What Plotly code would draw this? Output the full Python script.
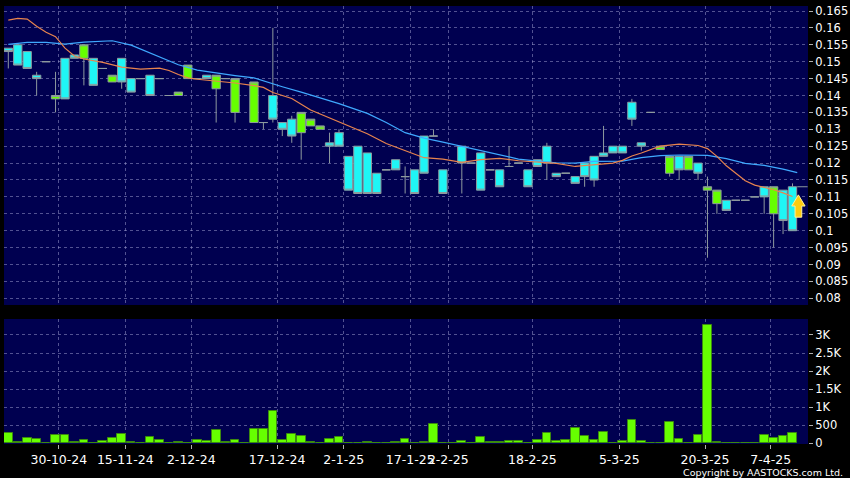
import plotly.graph_objects as go

# ---------------- data ----------------
idx = list(range(84))

open_ = [0.154, 0.155, 0.153, 0.146, 0.150, 0.139, 0.151, 0.152, 0.151, 0.151,
         0.148, 0.144, 0.151, 0.145, 0.145, 0.146, 0.145, 0.140, 0.140, 0.145,
         0.145, 0.146, 0.142, 0.145, 0.135, None, 0.132, 0.132, 0.140, 0.132,
         0.133, 0.129, 0.131, 0.130, 0.126, 0.129, 0.122, 0.125, 0.123, 0.117,
         0.118, 0.121, 0.116, 0.118, 0.128, 0.128, 0.118, None, 0.125, 0.120,
         0.123, 0.118, 0.118, 0.119, 0.120, 0.118, 0.121, 0.125, 0.117, 0.117,
         0.116, 0.120, 0.122, 0.123, 0.125, 0.125, 0.138, 0.126, 0.135, 0.124,
         0.117, 0.122, 0.118, 0.120, 0.112, 0.108, 0.109, 0.109, 0.109, 0.110,
         0.113, 0.105, 0.112, 0.113]
high_ = [0.154, 0.155, 0.153, 0.147, 0.150, 0.147, 0.151, 0.152, 0.155, 0.151,
         0.148, 0.146, 0.151, 0.145, 0.145, 0.146, 0.145, 0.140, 0.141, 0.149,
         0.145, 0.146, 0.146, 0.145, 0.145, None, 0.144, 0.132, 0.160, 0.132,
         0.134, 0.135, 0.133, 0.131, 0.129, 0.130, 0.122, 0.125, 0.123, 0.117,
         0.118, 0.121, 0.119, 0.118, 0.128, 0.130, 0.118, None, 0.125, 0.120,
         0.123, 0.118, 0.118, 0.125, 0.120, 0.118, 0.121, 0.126, 0.117, 0.117,
         0.116, 0.120, 0.122, 0.131, 0.125, 0.125, 0.139, 0.126, 0.135, 0.125,
         0.122, 0.122, 0.122, 0.120, 0.116, 0.112, 0.109, 0.109, 0.109, 0.110,
         0.113, 0.113, 0.112, 0.114]
low_ = [0.148, 0.149, 0.148, 0.140, 0.150, 0.135, 0.139, 0.151, 0.143, 0.143,
        0.148, 0.144, 0.142, 0.141, 0.145, 0.140, 0.145, 0.140, 0.140, 0.145,
        0.145, 0.145, 0.132, 0.145, 0.132, None, 0.132, 0.130, 0.132, 0.128,
        0.126, 0.121, 0.131, 0.130, 0.120, 0.125, 0.112, 0.111, 0.111, 0.111,
        0.118, 0.118, 0.111, 0.111, 0.117, 0.128, 0.111, None, 0.111, 0.120,
        0.112, 0.118, 0.113, 0.119, 0.120, 0.113, 0.119, 0.115, 0.116, 0.117,
        0.114, 0.113, 0.113, 0.122, 0.123, 0.123, 0.131, 0.1237, 0.135, 0.124,
        0.116, 0.115, 0.118, 0.115, 0.092, 0.105, 0.106, 0.109, 0.109, 0.110,
        0.105, 0.095, 0.099, 0.100]
close_ = [0.153, 0.149, 0.148, 0.145, 0.150, 0.140, 0.139, 0.151, 0.155, 0.143,
          0.148, 0.146, 0.144, 0.141, 0.145, 0.140, 0.145, 0.140, 0.141, 0.149,
          0.145, 0.145, 0.146, 0.145, 0.145, None, 0.144, 0.132, 0.133, 0.130,
          0.128, 0.135, 0.133, 0.131, 0.125, 0.125, 0.112, 0.111, 0.111, 0.111,
          0.118, 0.118, 0.116, 0.111, 0.117, 0.128, 0.111, None, 0.120, 0.120,
          0.112, 0.118, 0.113, 0.119, 0.120, 0.113, 0.119, 0.120, 0.116, 0.117,
          0.114, 0.116, 0.115, 0.122, 0.123, 0.123, 0.133, 0.125, 0.135, 0.125,
          0.122, 0.118, 0.122, 0.117, 0.113, 0.112, 0.106, 0.109, 0.109, 0.110,
          0.110, 0.113, 0.103, 0.100]

volume = [296, 46, 138, 120, 18, 230, 221, 46, 92, 0,
          74, 148, 258, 37, 0, 175, 92, 10, 28, 0,
          92, 74, 369, 37, 83, 0, 397, 397, 905, 101,
          258, 203, 28, 0, 129, 175, 0, 10, 37, 0,
          0, 37, 129, 10, 37, 535, 0, 0, 55, 0,
          185, 37, 46, 55, 55, 10, 92, 277, 65, 101,
          425, 194, 92, 323, 0, 55, 646, 65, 0, 15,
          590, 129, 0, 230, 3276, 28, 0, 0, 0, 10,
          230, 157, 203, 296]

# short moving average (orange), read at candle positions
ma_s_idx = [0, 1, 2, 3, 4, 5, 6, 7, 8, 10, 12, 14, 16, 17, 18, 19, 20, 22, 24, 26,
            27, 28, 29, 30, 32, 34, 36, 38, 40, 42, 44, 46, 48, 50, 52, 54, 56, 58,
            60, 62, 64, 65, 66, 67, 68, 69, 71, 73, 74, 75, 76, 77, 78, 79, 80, 81,
            82, 83]
ma_s_val = [0.1623, 0.1628, 0.1626, 0.1605, 0.1587, 0.1574, 0.1540, 0.1517, 0.1508,
            0.1498, 0.1484, 0.1478, 0.1481, 0.1474, 0.1462, 0.1452, 0.1448, 0.1443,
            0.1437, 0.1429, 0.1424, 0.1409, 0.1400, 0.1391, 0.1357, 0.1334, 0.1311,
            0.1287, 0.1258, 0.1236, 0.1216, 0.1212, 0.1202, 0.1210, 0.1214, 0.1207,
            0.1202, 0.1199, 0.1190, 0.1194, 0.1200, 0.1208, 0.1221, 0.1230, 0.1240,
            0.1250, 0.1256, 0.1252, 0.1243, 0.1220, 0.1192, 0.1170, 0.1148, 0.1135,
            0.1129, 0.1121, 0.1112, 0.1101]

# long moving average (blue)
ma_l_idx = [0, 2, 4, 6, 8, 10, 11, 13, 14, 16, 18, 20, 22, 24, 26, 27, 29, 31, 33,
            35, 38, 40, 42, 44, 46, 48, 50, 52, 54, 56, 58, 60, 62, 65, 67, 69, 71,
            74, 76, 78, 80, 82, 83.5]
ma_l_val = [0.1551, 0.1557, 0.1557, 0.1552, 0.1558, 0.1561, 0.1562, 0.1549, 0.1537,
            0.1515, 0.1491, 0.1475, 0.1466, 0.1459, 0.1452, 0.1443, 0.1426, 0.1410,
            0.1393, 0.1376, 0.1347, 0.1320, 0.1290, 0.1274, 0.1262, 0.1250, 0.1237,
            0.1224, 0.1212, 0.1206, 0.1201, 0.1200, 0.1205, 0.1206, 0.1216, 0.1222,
            0.1224, 0.1223, 0.1213, 0.1199, 0.1193, 0.1182, 0.1172]

date_labels = ["30-10-24", "15-11-24", "2-12-24", "17-12-24", "2-1-25", "17-1-25",
               "2-2-25", "18-2-25", "5-3-25", "20-3-25", "7-4-25"]

price_ticks = [0.08, 0.085, 0.09, 0.095, 0.1, 0.105, 0.11, 0.115, 0.12, 0.125,
               0.13, 0.135, 0.14, 0.145, 0.15, 0.155, 0.16, 0.165]
price_tick_text = ["0.08", "0.085", "0.09", "0.095", "0.1", "0.105", "0.11", "0.115",
                   "0.12", "0.125", "0.13", "0.135", "0.14", "0.145", "0.15", "0.155",
                   "0.16", "0.165"]
vol_ticks = [0, 500, 1000, 1500, 2000, 2500, 3000]
vol_tick_text = ["0", "500", "1K", "1.5K", "2K", "2.5K", "3K"]

# ---------------- layout / style ----------------
date_pos = [5.35, 12.38, 19.37, 28.44, 35.5, 42.54, 46.57, 55.47, 64.67, 73.74, 80.7]
X_RANGE = [-0.455, 84.64]
NAVY = "#000050"
GRID = "rgba(150,150,200,0.55)"
FONT = "DejaVu Sans"

fig = go.Figure()

fig.add_trace(go.Candlestick(
    x=idx, open=open_, high=high_, low=low_, close=close_,
    xaxis="x", yaxis="y",
    increasing=dict(fillcolor="#66ff00", line=dict(color="#8e9a9e", width=1)),
    decreasing=dict(fillcolor="#1ff5f5", line=dict(color="#8e9a9e", width=1)),
    whiskerwidth=0, showlegend=False, hoverinfo="skip"))

fig.add_trace(go.Scatter(x=ma_l_idx, y=ma_l_val, mode="lines", xaxis="x", yaxis="y",
                         line=dict(color="#3fa9ff", width=1.2), showlegend=False,
                         hoverinfo="skip"))
fig.add_trace(go.Scatter(x=ma_s_idx, y=ma_s_val, mode="lines", xaxis="x", yaxis="y",
                         line=dict(color="#e8844e", width=1.2), showlegend=False,
                         hoverinfo="skip"))

fig.add_trace(go.Bar(x=idx, y=volume, xaxis="x2", yaxis="y2", width=0.92,
                     marker=dict(color="#66ff00", line=dict(color="#3d8a10", width=1)),
                     showlegend=False, hoverinfo="skip"))

# yellow arrow marker and last-price dash
fig.add_shape(type="path", xref="x", yref="y",
              path="M 83.62,0.1106 L 84.33,0.1073 L 83.98,0.1073 L 83.98,0.1040 "
                   "L 83.27,0.1040 L 83.27,0.1073 L 82.92,0.1073 Z",
              fillcolor="#ffcc10", line=dict(color="#fff3a0", width=1))
fig.add_shape(type="line", xref="x", yref="y", x0=83.5, x1=84.6, y0=0.113, y1=0.113,
              line=dict(color="#8e9a9e", width=1))

axis_common = dict(showline=False, zeroline=False, fixedrange=True, automargin=False)

fig.update_layout(
    width=850, height=478,
    margin=dict(l=4, r=42, t=6, b=34),
    paper_bgcolor="black", plot_bgcolor=NAVY,
    font=dict(family=FONT, color="white", size=11),
    boxgap=0.12, boxgroupgap=0,
    bargap=0,
    xaxis=dict(domain=[0, 1], range=X_RANGE, anchor="y", tickvals=date_pos,
               showticklabels=False, ticks="", showgrid=True, gridcolor=GRID,
               griddash="3px,3px", gridwidth=1, rangeslider=dict(visible=False),
               **axis_common),
    xaxis2=dict(domain=[0, 1], range=X_RANGE, anchor="y2", matches="x",
                tickvals=date_pos, ticktext=date_labels, ticks="outside", ticklen=4,
                tickangle=0,
                tickcolor="#b0b0b0", tickfont=dict(size=12.5, color="white"),
                showgrid=True, gridcolor=GRID, griddash="3px,3px", gridwidth=1,
                **axis_common),
    yaxis=dict(domain=[0.3174, 1], range=[0.07802, 0.16648], anchor="x", side="right",
               tickvals=price_ticks, ticktext=price_tick_text, ticks="outside",
               ticklen=4, tickcolor="#b0b0b0", tickfont=dict(size=11.5, color="white"),
               showgrid=True, gridcolor=GRID, griddash="3px,3px", gridwidth=1,
               **axis_common),
    yaxis2=dict(domain=[0, 0.2854], range=[-19, 3443], anchor="x2", side="right",
                tickvals=vol_ticks, ticktext=vol_tick_text, ticks="outside",
                ticklen=4, tickcolor="#b0b0b0", tickfont=dict(size=11.5, color="white"),
                showgrid=True, gridcolor=GRID, griddash="3px,3px", gridwidth=1,
                **axis_common),
    annotations=[dict(text="Copyright by AASTOCKS.com Ltd.", xref="paper", yref="paper",
                      x=1.046, y=-0.065, xanchor="right", yanchor="middle",
                      showarrow=False, font=dict(size=9.5, color="white", family=FONT))],
)

fig.write_html("out.html",
               config={"displayModeBar": False},
               post_script="document.body.style.margin='0';"
                           "document.body.style.overflow='hidden';"
                           "document.body.style.background='black';")
